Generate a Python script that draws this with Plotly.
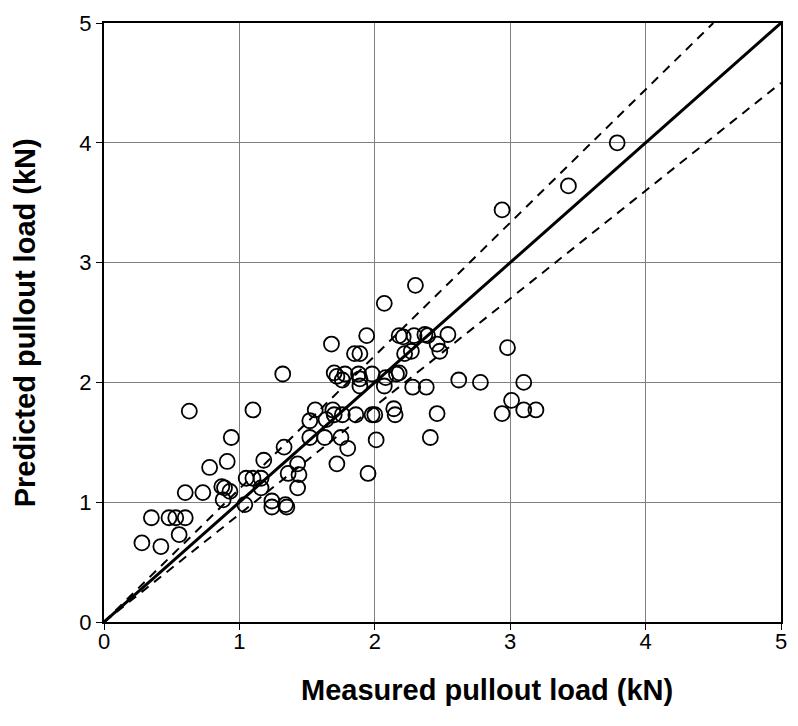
import plotly.graph_objects as go

# Measured (x) vs predicted (y) pullout load, kN
measured = [
    0.28, 0.35, 0.42, 0.48, 0.53, 0.60, 0.555, 0.60, 0.63, 0.73,
    0.78, 0.87, 0.89, 0.93, 0.88, 0.91, 0.94, 1.04, 1.05, 1.10,
    1.16, 1.16, 1.18, 1.10, 1.24, 1.24, 1.34, 1.35, 1.36, 1.33,
    1.32, 1.43, 1.44, 1.43, 1.52, 1.52, 1.56, 1.63, 1.64, 1.69,
    1.70, 1.75, 1.76, 1.80, 1.72, 1.86, 1.95, 1.98, 2.00, 2.01,
    2.14, 2.15, 1.68, 1.70, 1.72, 1.76, 1.78, 1.85, 1.89, 1.88,
    1.89, 1.94, 1.98, 2.07, 2.08, 2.16, 2.18, 2.07, 2.18, 2.21,
    2.22, 2.29, 2.27, 2.30, 2.28, 2.37, 2.39, 2.38, 2.46, 2.48,
    2.54, 2.46, 2.41, 2.62, 2.78, 2.94, 2.98, 3.10, 3.01, 2.94,
    3.10, 3.19, 3.43, 3.79, 1.89,
]
predicted = [
    0.66, 0.87, 0.63, 0.87, 0.87, 0.87, 0.73, 1.08, 1.76, 1.08,
    1.29, 1.13, 1.12, 1.09, 1.02, 1.34, 1.54, 0.98, 1.20, 1.20,
    1.20, 1.12, 1.35, 1.77, 1.01, 0.96, 0.98, 0.96, 1.24, 1.46,
    2.07, 1.32, 1.23, 1.12, 1.54, 1.68, 1.77, 1.54, 1.69, 1.77,
    1.73, 1.54, 1.73, 1.45, 1.32, 1.73, 1.24, 1.73, 1.73, 1.52,
    1.78, 1.73, 2.32, 2.08, 2.05, 2.02, 2.07, 2.24, 2.24, 2.07,
    2.03, 2.39, 2.07, 1.97, 2.04, 2.07, 2.08, 2.66, 2.39, 2.38,
    2.24, 2.39, 2.26, 2.81, 1.96, 2.40, 2.39, 1.96, 2.32, 2.26,
    2.40, 1.74, 1.54, 2.02, 2.00, 3.44, 2.29, 2.00, 1.85, 1.74,
    1.77, 1.77, 3.64, 4.00, 1.97,
]

# Reference lines: equality and +/- bounds
line_x = [0, 5]
equality_y = [0, 5]
upper_x = [0, 4.5]
upper_y = [0, 5]
lower_x = [0, 5]
lower_y = [0, 4.5]

tick_vals = [0, 1, 2, 3, 4, 5]
tick_text = ["0", "1", "2", "3", "4", "5"]

FONT = "Liberation Sans, Arial, sans-serif"

fig = go.Figure()
fig.add_trace(go.Scatter(x=upper_x, y=upper_y, mode="lines",
                         line=dict(color="black", width=2, dash="9px,7px"),
                         showlegend=False, hoverinfo="skip"))
fig.add_trace(go.Scatter(x=lower_x, y=lower_y, mode="lines",
                         line=dict(color="black", width=2, dash="9px,7px"),
                         showlegend=False, hoverinfo="skip"))
fig.add_trace(go.Scatter(x=line_x, y=equality_y, mode="lines",
                         line=dict(color="black", width=3),
                         showlegend=False, hoverinfo="skip"))
fig.add_trace(go.Scatter(x=measured, y=predicted, mode="markers",
                         marker=dict(symbol="circle-open", size=15,
                                     color="black", line=dict(width=1.8, color="black")),
                         showlegend=False))

axis_common = dict(
    range=[0, 5], tickvals=tick_vals, ticktext=tick_text,
    showgrid=True, gridcolor="#808080", gridwidth=1,
    zeroline=False, showline=True, linecolor="black", linewidth=2,
    mirror=True, ticks="outside", ticklen=6, tickcolor="black", tickwidth=1,
    tickfont=dict(family=FONT, size=22, color="black"),
)

fig.update_layout(
    width=798, height=726,
    margin=dict(l=104, r=11, t=17, b=104),
    plot_bgcolor="white", paper_bgcolor="white",
    xaxis=dict(**axis_common, ticklabelstandoff=-7),
    yaxis=dict(**axis_common),
    annotations=[
        dict(text="<b>Measured pullout load (kN)</b>", xref="paper", yref="paper",
             x=0.566, y=-0.113, xanchor="center", yanchor="middle", showarrow=False,
             font=dict(family=FONT, size=29, color="black")),
        dict(text="<b>Predicted pullout load (kN)</b>", xref="paper", yref="paper",
             x=-0.117, y=0.5, xanchor="center", yanchor="middle", textangle=-90,
             showarrow=False, font=dict(family=FONT, size=29, color="black")),
    ],
)

fig.write_html("out.html")
